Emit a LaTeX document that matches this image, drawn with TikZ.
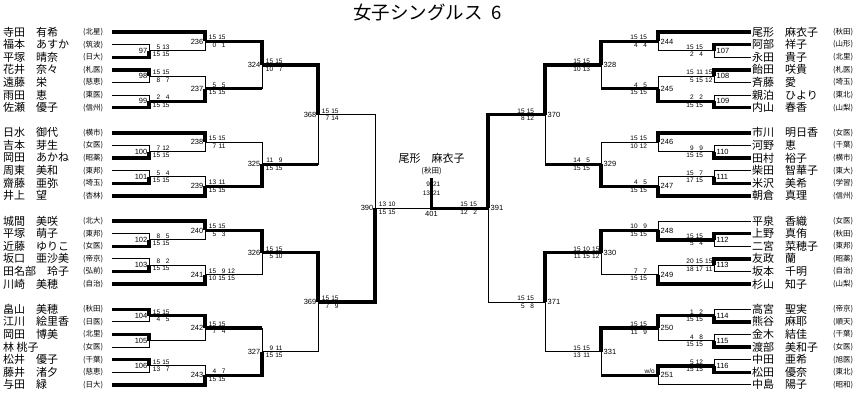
\documentclass[tikz,border=0pt]{standalone}
\usepackage{fontspec}
\setmainfont{Liberation Sans}
\newfontfamily\jp{Noto Sans CJK JP}
\newcommand\bkg[1]{\makebox[1.45em][r]{#1}}
\tikzset{
  thn/.style={line width=0.9pt},
  thk/.style={line width=3.4pt},
  nm/.style={font=\jp\fontsize{11}{11}\selectfont, anchor=west, inner sep=0pt},
  af/.style={font=\jp\fontsize{7.5}{7.5}\selectfont, anchor=west, inner sep=0pt},
  lbl/.style={font=\fontsize{7.5}{7.5}\selectfont, inner sep=0pt},
  scs/.style={font=\fontsize{6.5}{6.5}\selectfont, inner sep=0pt},
  LU/.style={anchor=south west, xshift=1.5pt, yshift=1.2pt},
  LD/.style={anchor=north west, xshift=1.5pt, yshift=-1.2pt},
  RU/.style={anchor=south west, xshift=-30pt, yshift=1.2pt},
  RD/.style={anchor=north west, xshift=-30pt, yshift=-1.2pt},
}
\newcommand\bkLP[4]{\node[nm] (n#1) at (3,#2) {#3}; \node[af] (f#1) at (83,#2) {#4}; \coordinate (a#1) at (112,#2);}
\newcommand\bkRP[4]{\node[nm] (r#1) at (752,#2) {#3}; \node[af] (g#1) at (833,#2) {#4}; \coordinate (b#1) at (751,#2);}
\newcommand\bkLM[9]{\coordinate (m#1) at (#2,#3); \draw[#5] (#4) -| (m#1); \draw[#7] (#6) -| (m#1); \node[lbl,anchor=east,xshift=-1.5pt] (t#1) at (m#1) {#1}; \node[scs,LU] (u#1) at (m#1) {#8}; \node[scs,LD] (d#1) at (m#1) {#9};}
\newcommand\bkRM[9]{\coordinate (m#1) at (#2,#3); \draw[#5] (#4) -| (m#1); \draw[#7] (#6) -| (m#1); \node[lbl,anchor=west,xshift=2.5pt] (t#1) at (m#1) {#1}; \node[scs,RU] (u#1) at (m#1) {#8}; \node[scs,RD] (d#1) at (m#1) {#9};}
\begin{document}
\begin{tikzpicture}[x=1pt,y=-1pt]
\fill[white] (0,0) rectangle (863,400);
\useasboundingbox (0,0) rectangle (863,400);
\node[anchor=west, font=\jp\fontsize{18.5}{18.5}\selectfont, inner sep=0pt] (title) at (353,13) {女子シングルス\hspace{0.45em}6};
% left players
\bkLP{0}{32}{寺田　有希}{(北星)}
\bkLP{1}{44.6}{福本　あすか}{(筑波)}
\bkLP{2}{57.2}{平塚　晴奈}{(日大)}
\bkLP{3}{69.8}{花井　奈々}{(札医)}
\bkLP{4}{82.4}{遠藤　栄}{(慈恵)}
\bkLP{5}{95}{雨田　恵}{(東医)}
\bkLP{6}{107.6}{佐瀬　優子}{(信州)}
\bkLP{8}{132.8}{日水　御代}{(横市)}
\bkLP{9}{145.4}{吉本　芽生}{(女医)}
\bkLP{10}{158}{岡田　あかね}{(昭薬)}
\bkLP{11}{170.6}{周東　美和}{(東邦)}
\bkLP{12}{183.2}{齋藤　亜弥}{(埼玉)}
\bkLP{13}{195.8}{井上　望}{(杏林)}
\bkLP{15}{221}{城間　美咲}{(北大)}
\bkLP{16}{233.6}{平塚　萌子}{(東邦)}
\bkLP{17}{246.2}{近藤　ゆりこ}{(女医)}
\bkLP{18}{258.8}{坂口　亜沙美}{(帝京)}
\bkLP{19}{271.4}{田名部　玲子}{(弘前)}
\bkLP{20}{284}{川崎　美穂}{(自治)}
\bkLP{22}{309.2}{畠山　美穂}{(秋田)}
\bkLP{23}{321.8}{江川　絵里香}{(日医)}
\bkLP{24}{334.4}{岡田　博美}{(北里)}
\bkLP{25}{347}{林 桃子}{(女医)}
\bkLP{26}{359.6}{松井　優子}{(千葉)}
\bkLP{27}{372.2}{藤井　渚夕}{(慈恵)}
\bkLP{28}{384.8}{与田　緑}{(日大)}
% right players
\bkRP{0}{32}{尾形　麻衣子}{(秋田)}
\bkRP{1}{44.6}{阿部　祥子}{(山形)}
\bkRP{2}{57.2}{永田　貴子}{(北里)}
\bkRP{3}{69.8}{飴田　咲貴}{(札医)}
\bkRP{4}{82.4}{斉藤　愛}{(埼玉)}
\bkRP{5}{95}{親泊　ひより}{(東北)}
\bkRP{6}{107.6}{内山　春香}{(山梨)}
\bkRP{8}{132.8}{市川　明日香}{(女医)}
\bkRP{9}{145.4}{河野　恵}{(千葉)}
\bkRP{10}{158}{田村　裕子}{(横市)}
\bkRP{11}{170.6}{柴田　智華子}{(東大)}
\bkRP{12}{183.2}{米沢　美希}{(学習)}
\bkRP{13}{195.8}{朝倉　真理}{(信州)}
\bkRP{15}{221}{平泉　香織}{(女医)}
\bkRP{16}{233.6}{上野　真侑}{(秋田)}
\bkRP{17}{246.2}{二宮　菜穂子}{(東邦)}
\bkRP{18}{258.8}{友政　蘭}{(昭薬)}
\bkRP{19}{271.4}{坂本　千明}{(自治)}
\bkRP{20}{284}{杉山　知子}{(山梨)}
\bkRP{22}{309.2}{高宮　聖実}{(帝京)}
\bkRP{23}{321.8}{熊谷　麻耶}{(順天)}
\bkRP{24}{334.4}{金木　結佳}{(千葉)}
\bkRP{25}{347}{渡部　美和子}{(女医)}
\bkRP{26}{359.6}{中田　亜希}{(旭医)}
\bkRP{27}{372.2}{松田　優奈}{(東北)}
\bkRP{28}{384.8}{中島　陽子}{(昭和)}
% left round 1
\bkLM{97}{149}{50.9}{a1}{thn}{a2}{thk}{\bkg{5}\bkg{13}}{\bkg{15}\bkg{15}}
\bkLM{98}{149}{76.1}{a3}{thk}{a4}{thn}{\bkg{15}\bkg{15}}{\bkg{8}\bkg{7}}
\bkLM{99}{149}{101.3}{a5}{thn}{a6}{thk}{\bkg{2}\bkg{4}}{\bkg{15}\bkg{15}}
\bkLM{100}{149}{151.7}{a9}{thn}{a10}{thk}{\bkg{7}\bkg{12}}{\bkg{15}\bkg{15}}
\bkLM{101}{149}{176.9}{a11}{thn}{a12}{thk}{\bkg{5}\bkg{4}}{\bkg{15}\bkg{15}}
\bkLM{102}{149}{239.9}{a16}{thn}{a17}{thk}{\bkg{8}\bkg{5}}{\bkg{15}\bkg{15}}
\bkLM{103}{149}{265.1}{a18}{thn}{a19}{thk}{\bkg{8}\bkg{2}}{\bkg{15}\bkg{15}}
\bkLM{104}{149}{315.5}{a22}{thk}{a23}{thn}{\bkg{15}\bkg{15}}{\bkg{4}\bkg{5}}
\bkLM{105}{149}{340.7}{a24}{thk}{a25}{thn}{}{}
\bkLM{106}{149}{365.9}{a26}{thk}{a27}{thn}{\bkg{15}\bkg{15}}{\bkg{13}\bkg{7}}
% left round 2
\bkLM{236}{205}{41.45}{a0}{thk}{m97}{thn}{\bkg{15}\bkg{15}}{\bkg{0}\bkg{1}}
\bkLM{237}{205}{88.7}{m98}{thn}{m99}{thk}{\bkg{5}\bkg{5}}{\bkg{15}\bkg{15}}
\bkLM{238}{205}{142.25}{a8}{thk}{m100}{thn}{\bkg{15}\bkg{15}}{\bkg{7}\bkg{11}}
\bkLM{239}{205}{186.35}{m101}{thn}{a13}{thk}{\bkg{13}\bkg{11}}{\bkg{15}\bkg{15}}
\bkLM{240}{205}{230.45}{a15}{thk}{m102}{thn}{\bkg{15}\bkg{15}}{\bkg{5}\bkg{3}}
\bkLM{241}{205}{274.55}{m103}{thn}{a20}{thk}{\bkg{15}\bkg{9}\bkg{12}}{\bkg{10}\bkg{15}\bkg{15}}
\bkLM{242}{205}{328.1}{m104}{thk}{m105}{thn}{\bkg{15}\bkg{15}}{\bkg{7}\bkg{4}}
\bkLM{243}{205}{375.35}{m106}{thn}{a28}{thk}{\bkg{4}\bkg{7}}{\bkg{15}\bkg{15}}
% left round 3
\bkLM{324}{262}{65.075}{m236}{thk}{m237}{thn}{\bkg{15}\bkg{15}}{\bkg{10}\bkg{7}}
\bkLM{325}{262}{164.3}{m238}{thn}{m239}{thk}{\bkg{11}\bkg{9}}{\bkg{15}\bkg{15}}
\bkLM{326}{262}{252.5}{m240}{thk}{m241}{thn}{\bkg{15}\bkg{15}}{\bkg{5}\bkg{10}}
\bkLM{327}{262}{351.725}{m242}{thn}{m243}{thk}{\bkg{9}\bkg{11}}{\bkg{15}\bkg{15}}
\draw[thk] (m237) -- (m237 -| m324);
\draw[thk] (m242) -- (m242 -| m327);
% left round 4, semi
\bkLM{368}{318}{114.69}{m324}{thk}{m325}{thn}{\bkg{15}\bkg{15}}{\bkg{7}\bkg{14}}
\bkLM{369}{318}{302.11}{m326}{thk}{m327}{thn}{\bkg{15}\bkg{15}}{\bkg{7}\bkg{9}}
\draw[thk] (m325) -- (m325 -| m368);
\bkLM{390}{375}{208.4}{m368}{thn}{m369}{thk}{\bkg{13}\bkg{10}}{\bkg{15}\bkg{15}}
% right round 1
\bkRM{107}{714}{50.9}{b1}{thk}{b2}{thn}{\bkg{15}\bkg{15}}{\bkg{2}\bkg{4}}
\bkRM{108}{714}{76.1}{b3}{thk}{b4}{thn}{\bkg{15}\bkg{11}\bkg{15}}{\bkg{5}\bkg{15}\bkg{12}}
\bkRM{109}{714}{101.3}{b5}{thn}{b6}{thk}{\bkg{2}\bkg{2}}{\bkg{15}\bkg{15}}
\bkRM{110}{714}{151.7}{b9}{thn}{b10}{thk}{\bkg{9}\bkg{9}}{\bkg{15}\bkg{15}}
\bkRM{111}{714}{176.9}{b11}{thn}{b12}{thk}{\bkg{15}\bkg{7}}{\bkg{17}\bkg{15}}
\bkRM{112}{714}{239.9}{b16}{thk}{b17}{thn}{\bkg{15}\bkg{15}}{\bkg{5}\bkg{4}}
\bkRM{113}{714}{265.1}{b18}{thk}{b19}{thn}{\bkg{20}\bkg{15}\bkg{15}}{\bkg{18}\bkg{17}\bkg{11}}
\bkRM{114}{714}{315.5}{b22}{thn}{b23}{thk}{\bkg{1}\bkg{2}}{\bkg{15}\bkg{15}}
\bkRM{115}{714}{340.7}{b24}{thn}{b25}{thk}{\bkg{4}\bkg{8}}{\bkg{15}\bkg{15}}
\bkRM{116}{714}{365.9}{b26}{thn}{b27}{thk}{\bkg{5}\bkg{12}}{\bkg{15}\bkg{15}}
% right round 2
\bkRM{244}{658}{41.45}{b0}{thk}{m107}{thn}{\bkg{15}\bkg{15}}{\bkg{4}\bkg{4}}
\bkRM{245}{658}{88.7}{m108}{thn}{m109}{thk}{\bkg{4}\bkg{5}}{\bkg{15}\bkg{15}}
\bkRM{246}{658}{142.25}{b8}{thk}{m110}{thn}{\bkg{15}\bkg{15}}{\bkg{10}\bkg{12}}
\bkRM{247}{658}{186.35}{m111}{thn}{b13}{thk}{\bkg{4}\bkg{5}}{\bkg{15}\bkg{15}}
\bkRM{248}{658}{230.45}{b15}{thn}{m112}{thk}{\bkg{10}\bkg{9}}{\bkg{15}\bkg{15}}
\bkRM{249}{658}{274.55}{m113}{thn}{b20}{thk}{\bkg{7}\bkg{7}}{\bkg{15}\bkg{15}}
\bkRM{250}{658}{328.1}{m114}{thk}{m115}{thn}{\bkg{15}\bkg{15}}{\bkg{11}\bkg{9}}
\bkRM{251}{658}{375.35}{m116}{thk}{b28}{thn}{}{}
\node[scs, anchor=south east, xshift=-3pt, yshift=1.2pt] (w251) at (m251) {w/o};
% right round 3
\bkRM{328}{601}{65.075}{m244}{thk}{m245}{thn}{\bkg{15}\bkg{15}}{\bkg{10}\bkg{13}}
\bkRM{329}{601}{164.3}{m246}{thn}{m247}{thk}{\bkg{14}\bkg{5}}{\bkg{15}\bkg{15}}
\bkRM{330}{601}{252.5}{m248}{thk}{m249}{thn}{\bkg{15}\bkg{10}\bkg{15}}{\bkg{11}\bkg{15}\bkg{12}}
\bkRM{331}{601}{351.725}{m250}{thk}{m251}{thn}{\bkg{15}\bkg{15}}{\bkg{13}\bkg{11}}
\draw[thk] (m245) -- (m245 -| m328);
\draw[thk] (m251) -- (m251 -| m331);
% right round 4, semi
\bkRM{370}{545}{114.69}{m328}{thk}{m329}{thn}{\bkg{15}\bkg{15}}{\bkg{8}\bkg{12}}
\bkRM{371}{545}{302.11}{m330}{thk}{m331}{thn}{\bkg{15}\bkg{15}}{\bkg{5}\bkg{8}}
\draw[thk] (m329) -- (m329 -| m370);
\bkRM{391}{488}{208.4}{m370}{thk}{m371}{thn}{\bkg{15}\bkg{15}}{\bkg{12}\bkg{2}}
% final
\coordinate (m401) at (431.5,208.4);
\coordinate (win) at (431.5,178);
\draw[thn] (m390) -- (m401);
\draw[thk] (m391) -- (m401) -- (win);
\node[lbl, anchor=north] (t401) at ([yshift=-3pt]m401) {401};
\node[nm, anchor=center] (champ) at (431.5,158) {尾形　麻衣子};
\node[af, anchor=center] (champaf) at (431.5,171) {(秋田)};
\node[scs, anchor=east] (f1a) at (430.2,184.5) {9};
\node[scs, anchor=west] (f1b) at (432.8,184.5) {21};
\node[scs, anchor=east] (f2a) at (430.2,193.5) {13};
\node[scs, anchor=west] (f2b) at (432.8,193.5) {21};
\end{tikzpicture}
\end{document}
